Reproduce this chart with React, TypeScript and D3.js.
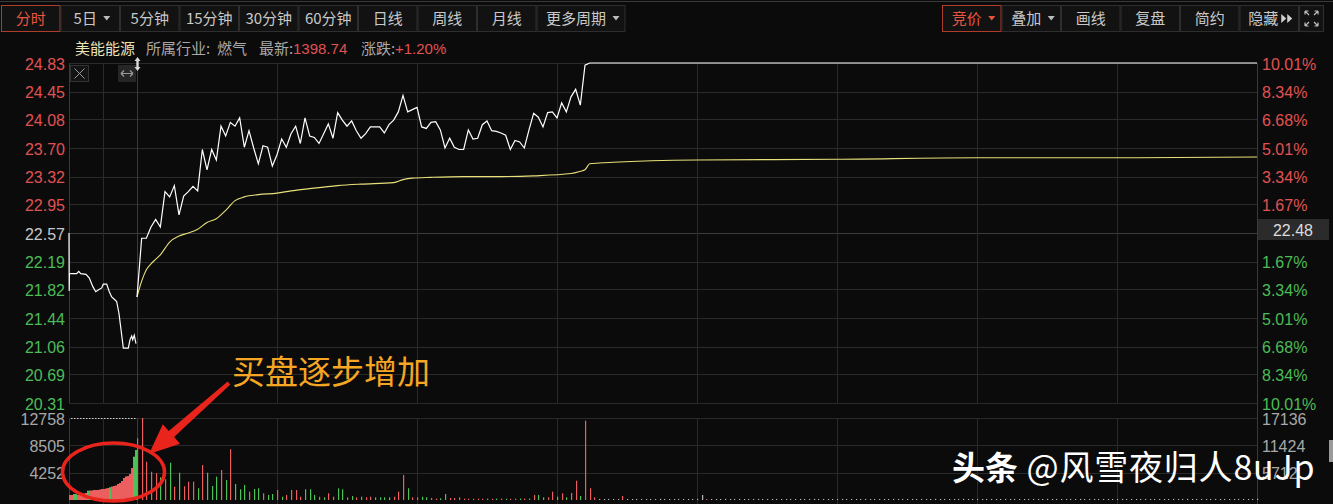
import React from 'react';
import * as d3 from 'd3';

// ---------------- DATA ----------------
const toolbarLeft = ['分时', '5日', '5分钟', '15分钟', '30分钟', '60分钟', '日线', '周线', '月线', '更多周期'];
const toolbarLeftDropdown = [false, true, false, false, false, false, false, false, false, true];
const toolbarRight = ['竞价', '叠加', '画线', '复盘', '简约', '隐藏'];
const toolbarRightDropdown = [true, true, false, false, false, false];

const stockName = '美能能源';
const industryLabel = '所属行业:';
const industryName = '燃气';
const latestLabel = '最新:';
const latestValue = '1398.74';
const changeLabel = '涨跌:';
const changeValue = '+1.20%';

const prevClose = 22.57;
const priceTicks = [24.83, 24.45, 24.08, 23.70, 23.32, 22.95, 22.57, 22.19, 21.82, 21.44, 21.06, 20.69, 20.31];
const pctTicks = ['10.01%', '8.34%', '6.68%', '5.01%', '3.34%', '1.67%', '', '1.67%', '3.34%', '5.01%', '6.68%', '8.34%', '10.01%'];
const crossPrice = '22.48';

// auction (9:15-9:25), minutes from 9:15
const preTimes = [0, 0.03, 0.06, 1.13, 1.43, 1.72, 2.5, 2.99, 3.49, 3.93, 4.41, 4.81, 5.04, 5.54, 5.93, 6.28, 6.66, 7.01, 7.35, 7.6, 7.99, 8.72, 8.97, 9.22, 9.37, 9.6, 9.85];
const prePrices = [22.57, 21.80, 22.03, 22.03, 22.06, 22.03, 22.02, 21.97, 21.86, 21.79, 21.82, 21.84, 21.89, 21.89, 21.79, 21.72, 21.69, 21.66, 21.50, 21.32, 21.04, 21.04, 21.15, 21.20, 21.15, 21.21, 21.10];
const preVolumes = [780, 780, 930, 930, 780, 860, 930, 1010, 1090, 1450, 1480, 1480, 1560, 1560, 1560, 1630, 1710, 1710, 1790, 1870, 1980, 2100, 2180, 2260, 2490, 2650, 2960, 3420, 3660, 3730, 4050, 4980, 6740, 7780];
const preVolDir = 'rrggrrrrrgrrrrrrrrrrgrrrrrrrrrrrgg';
const preVolMax = 12758;
const preVolTicks = [12758, 8505, 4252];

// main session, minute index 0..240
const mainPrices = [
  21.72, 22.50, 22.50, 22.65, 22.75, 22.65, 23.12, 23.05, 23.20, 22.81,
  23.06, 23.12, 23.19, 23.13, 23.68, 23.41, 23.68, 23.54, 23.99, 23.86,
  24.04, 23.99, 24.10, 23.71, 23.93, 23.70, 23.49, 23.73, 23.71, 23.46,
  23.61, 23.82, 23.71, 23.89, 23.99, 23.76, 24.10, 23.86, 23.84, 23.76,
  23.89, 24.02, 23.83, 24.17, 24.07, 23.99, 24.06, 23.93, 23.83, 23.89,
  23.98, 23.98, 23.98, 23.90, 24.01, 24.07, 24.18, 24.40, 24.18, 24.21,
  24.24, 23.98, 23.96, 24.04, 24.05, 23.94, 23.70, 23.83, 23.71, 23.68,
  23.68, 23.94, 23.82, 23.83, 24.01, 24.06, 23.93, 23.92, 23.90, 23.87,
  23.68, 23.80, 23.78, 23.70, 23.94, 24.16, 24.11, 23.98, 24.17, 24.18,
  24.10, 24.30, 24.18, 24.38, 24.48, 24.27, 24.80,
];
const limitUpPrice = 24.83;
const limitUpFrom = 97;
const sessionEnd = 240;

const avgMinutes = [0, 1, 2, 3, 4, 5, 7, 9, 11, 13, 15, 17, 19, 21, 23, 26, 30, 33, 37, 43, 48, 55, 57, 59, 63, 70, 78, 85, 93, 95, 96, 97, 99, 102, 120, 150, 180, 210, 240];
const avgPrices = [
  21.72, 21.93, 22.08, 22.16, 22.22, 22.28, 22.45, 22.53, 22.57, 22.62,
  22.71, 22.76, 22.87, 23.00, 23.05, 23.08, 23.10, 23.13, 23.16, 23.20,
  23.22, 23.24, 23.28, 23.30, 23.31, 23.32, 23.32, 23.33, 23.36, 23.39,
  23.41, 23.49, 23.50, 23.51, 23.54, 23.55, 23.57, 23.57, 23.58,
];

const mainVolumes = [
  12900, 17136, 8000, 5900, 5580, 4740, 4330, 7800, 2780, 5700,
  2860, 3820, 3820, 2450, 7310, 5700, 2930, 4870, 6270, 4180,
  10600, 3340, 2240, 3140, 1740, 2300, 2450, 1400, 1050, 1250,
  2090, 690, 1050, 2090, 2090, 690, 2240, 2240, 1050, 690,
  560, 1400, 690, 2450, 2240, 560, 850, 560, 690, 560,
  690, 560, 560, 560, 560, 690, 1740, 5220, 2450, 560,
  560, 690, 560, 420, 280, 350, 1250, 420, 420, 560,
  280, 280, 250, 280, 250, 280, 250, 280, 300, 280,
  250, 280, 300, 300, 300, 1050, 1050, 560, 560, 1740,
  690, 1400, 560, 1470, 4030, 850, 16570, 2450, 560,
  200, 180, 220, 160, 210, 850, 190, 170, 230, 200,
  180, 210, 160, 240, 190, 200, 170, 220, 180, 210,
  190, 230, 1045, 200, 170, 210, 180, 240, 160, 200,
  220, 180, 200, 170, 230, 190, 210, 160, 200, 180,
  210, 190, 170, 220, 200, 180, 240, 160, 210, 190,
  200, 170, 230, 180, 210, 190, 160, 220, 200, 180,
  190, 210, 170, 230, 200, 180, 160, 220, 190, 210,
  180, 200, 240, 170, 210, 190, 160, 200, 230, 180,
  210, 190, 170, 220, 200, 180, 160, 230, 190, 210,
  200, 170, 220, 180, 210, 190, 240, 160, 200, 180,
  190, 210, 170, 230, 200, 180, 220, 160, 210, 190,
  200, 170, 230, 180, 210, 190, 160, 220, 200, 180,
  190, 210, 170, 230, 200, 180, 240, 160, 210, 190,
  200, 180, 220, 170, 210, 190, 160, 230, 200, 180,
  210, 250,
];
const mainVolDir =
  'rrrrrgrgrg' + 'rrrgrgggrg' + 'rgggrggrgg' + 'rgrrrrgggr' + 'grrggrgrgr' +
  'rggggrrrgr' + 'rggrrggrrr' + 'rrgrrgrgrg' + 'rrgrgrggrr' + 'grgrrgrrr' +
  'fffffrfffffffffffffffffr';
const mainVolMax = 17136;
const mainVolTicks = [17136, 11424, 5712];

const annotationText = '买盘逐步增加';
const watermarkBold = '头条';
const watermarkRest = ' @风雪夜归人8uJp';

// ---------------- STYLE / LAYOUT ----------------
const W = 1333;
const H = 504;
const L = 69;        // plot left
const PRE_R = 137;   // end of auction pane
const R = 1257;      // plot right
const P_TOP = 63;
const P_BOT = 403;
const V_TOP = 418;
const V_BOT = 500;

const BG = '#0b0b0b';
const GRID = '#2a2a2a';
const RED = '#e05252';
const GREEN = '#4dbb57';
const BAR_RED = '#ec5f5f';
const BAR_GREEN = '#4cc159';
const GRAY_TXT = '#a8a8a8';
const CJK = '"Noto Sans CJK SC", "Noto Sans", sans-serif';
const NUM = '"Liberation Sans", Arial, sans-serif';

function DropArrow({ x, y, color }: { x: number; y: number; color: string }) {
  return <path d={`M${x - 3.5},${y - 2} L${x + 3.5},${y - 2} L${x},${y + 2.5} Z`} fill={color} />;
}

export default function App() {
  const x = d3.scaleLinear().domain([0, sessionEnd]).range([PRE_R, R]);
  const xPre = d3.scaleLinear().domain([0, 10]).range([L, PRE_R]);
  const y = d3.scaleLinear().domain([priceTicks[priceTicks.length - 1], priceTicks[0]]).range([P_BOT, P_TOP]);
  const yVol = d3.scaleLinear().domain([0, mainVolMax]).range([V_BOT, V_TOP]);
  const yPreVol = d3.scaleLinear().domain([0, preVolMax]).range([V_BOT, V_TOP]);
  const preBand = d3.scaleBand<number>().domain(d3.range(preVolumes.length)).range([L, PRE_R]).paddingInner(0);

  const mainSeries: [number, number][] = mainPrices.map((p, i) => [i, p] as [number, number]);
  mainSeries.push([limitUpFrom, limitUpPrice], [sessionEnd, limitUpPrice]);

  const line = d3.line<[number, number]>().x((d) => x(d[0])).y((d) => y(d[1]));
  const preLine = d3.line<[number, number]>().x((d) => xPre(d[0])).y((d) => y(d[1]));
  const avgLine = d3
    .line<[number, number]>()
    .x((d) => x(d[0]))
    .y((d) => y(d[1]))
    .curve(d3.curveMonotoneX);

  const preSeries: [number, number][] = preTimes.map((t, i) => [t, prePrices[i]] as [number, number]);
  const avgSeries: [number, number][] = avgMinutes.map((m, i) => [m, avgPrices[i]] as [number, number]);

  const vGrid = d3.range(0, sessionEnd + 1, 30).map((m) => x(m));

  // toolbar geometry
  const btnW = 59.5;
  const leftBtns = toolbarLeft.map((t, i) => {
    const x0 = 1 + i * btnW;
    const w = i === toolbarLeft.length - 1 ? 89 : btnW;
    return { t, x0, w, drop: toolbarLeftDropdown[i], sel: i === 0 };
  });
  const rightBtns = toolbarRight.map((t, i) => ({ t, x0: 942 + i * btnW, w: btnW, drop: toolbarRightDropdown[i], sel: i === 0 }));

  // arrow geometry
  const T = [229, 383];
  const P = [149, 454];
  const dx = P[0] - T[0];
  const dy = P[1] - T[1];
  const len = Math.hypot(dx, dy);
  const u = [dx / len, dy / len];
  const n = [-u[1], u[0]];
  const B = [P[0] - u[0] * 30, P[1] - u[1] * 30];
  const pt = (p: number[], k: number) => `${p[0] + n[0] * k},${p[1] + n[1] * k}`;
  const arrowPts = [pt(T, 2), pt(B, 4), pt(B, 13), `${P[0]},${P[1]}`, pt(B, -13), pt(B, -4), pt(T, -2)].join(' ');

  return (
    <svg
      width={W}
      height={H}
      style={{ position: 'fixed', left: 0, top: 0, display: 'block', background: BG }}
      xmlns="http://www.w3.org/2000/svg"
    >
      <rect x={0} y={0} width={W} height={H} fill={BG} />

      {/* toolbar */}
      <line x1={0} x2={W} y1={1.5} y2={1.5} stroke="#3a3a3a" />
      {[...leftBtns, ...rightBtns].map((b, i) => {
        const c = b.x0 + b.w / 2;
        const color = b.sel ? '#e8553e' : '#c9c9c9';
        const tx = b.drop ? c - 5 : b.t === '隐藏' ? c - 6 : c;
        const textW = b.t.length * 15 - (/\d/.test(b.t) ? 7 * (b.t.match(/\d/g) || []).length : 0);
        return (
          <g key={'b' + i}>
            <rect x={b.x0 + 0.5} y={5.5} width={b.w - 1} height={26} fill="#121212" stroke={b.sel ? '#b03c2a' : '#2e2e2e'} />
            <text x={tx} y={23.5} textAnchor="middle" fontFamily={CJK} fontSize={15} fill={color}>
              {b.t}
            </text>
            {b.drop && <DropArrow x={tx + textW / 2 + 10} y={18} color={b.sel ? '#e8553e' : '#bdbdbd'} />}
            {b.t === '隐藏' && (
              <g fill="#cfcfcf">
                <path d={`M${tx + 18},${14} L${tx + 23},${18.5} L${tx + 18},${23} Z`} />
                <path d={`M${tx + 24},${14} L${tx + 29},${18.5} L${tx + 24},${23} Z`} />
              </g>
            )}
          </g>
        );
      })}
      {/* expand icon */}
      <g stroke="#bdbdbd" strokeWidth={1.2} fill="none">
        <rect x={1299.5} y={5.5} width={24} height={26} fill="#121212" stroke="#2e2e2e" />
        <path d="M1305,11 L1309,15 M1305,11 L1308.5,11 M1305,11 L1305,14.5" />
        <path d="M1318,11 L1314,15 M1318,11 L1314.5,11 M1318,11 L1318,14.5" />
        <path d="M1305,26 L1309,22 M1305,26 L1308.5,26 M1305,26 L1305,22.5" />
        <path d="M1318,26 L1314,22 M1318,26 L1314.5,26 M1318,26 L1318,22.5" />
      </g>

      {/* header */}
      <text y={54} fontFamily={CJK} fontSize={15}>
        <tspan x={75} fill="#ece3b8">{stockName}</tspan>
        <tspan x={146} fill="#a9a9a9">{industryLabel}</tspan>
        <tspan x={217} fill="#a9a9a9">{industryName}</tspan>
        <tspan x={259} fill="#a9a9a9">{latestLabel}</tspan>
        <tspan x={293} fill={RED} fontFamily={NUM}>{latestValue}</tspan>
        <tspan x={361} fill="#a9a9a9">{changeLabel}</tspan>
        <tspan x={395} fill={RED} fontFamily={NUM}>{changeValue}</tspan>
      </text>

      {/* price grid */}
      {priceTicks.map((v, i) => (
        <line
          key={'hg' + i}
          x1={L}
          x2={R}
          y1={Math.round(y(v)) + 0.5}
          y2={Math.round(y(v)) + 0.5}
          stroke={v === prevClose ? '#3c3c3c' : GRID}
        />
      ))}
      {/* volume grid */}
      {mainVolTicks.map((v, i) => (
        <line key={'vg' + i} x1={L} x2={R} y1={Math.round(yVol(v)) + 0.5} y2={Math.round(yVol(v)) + 0.5} stroke={GRID} />
      ))}
      {/* vertical grid */}
      {vGrid.map((gx, i) => (
        <g key={'vx' + i}>
          <line x1={Math.round(gx) + 0.5} x2={Math.round(gx) + 0.5} y1={P_TOP} y2={P_BOT} stroke={i === 0 ? '#3a3a3a' : GRID} />
          <line x1={Math.round(gx) + 0.5} x2={Math.round(gx) + 0.5} y1={V_TOP} y2={H} stroke={i === 0 ? '#3a3a3a' : GRID} />
        </g>
      ))}
      <line x1={Math.round(xPre(5)) + 0.5} x2={Math.round(xPre(5)) + 0.5} y1={P_TOP} y2={P_BOT} stroke={GRID} />
      <line x1={Math.round(xPre(5)) + 0.5} x2={Math.round(xPre(5)) + 0.5} y1={V_TOP} y2={H} stroke={GRID} />
      <line x1={L + 0.5} x2={L + 0.5} y1={P_TOP} y2={P_BOT} stroke="#3a3a3a" />
      <line x1={L + 0.5} x2={L + 0.5} y1={V_TOP} y2={H} stroke="#3a3a3a" />
      <line x1={R + 0.5} x2={R + 0.5} y1={P_TOP} y2={H} stroke="#3a3a3a" />

      {/* auction volume */}
      {preVolumes.map((v, i) => {
        const top = yPreVol(v);
        return (
          <rect
            key={'pv' + i}
            x={preBand(i)!}
            y={top}
            width={preBand.bandwidth()}
            height={V_BOT - top}
            fill={preVolDir[i] === 'g' ? BAR_GREEN : BAR_RED}
          />
        );
      })}
      <line x1={L + 2} x2={PRE_R} y1={V_TOP + 0.5} y2={V_TOP + 0.5} stroke="#cfcfcf" strokeDasharray="1.5,1.5" />

      {/* main volume */}
      {mainVolumes.map((v, i) => {
        const top = Math.min(yVol(v), V_BOT - 1);
        const d = mainVolDir[i] ?? 'f';
        const color = d === 'r' ? BAR_RED : d === 'g' ? BAR_GREEN : '#b9b9b9';
        return <rect key={'mv' + i} x={Math.round(x(i))} y={top} width={1.2} height={V_BOT - top} fill={color} />;
      })}

      {/* price lines */}
      <path d={preLine(preSeries) || ''} fill="none" stroke="#ffffff" strokeWidth={1.2} />
      <path d={avgLine(avgSeries) || ''} fill="none" stroke="#e8e07a" strokeWidth={1.1} />
      <path d={line(mainSeries) || ''} fill="none" stroke="#ffffff" strokeWidth={1.2} />

      {/* left axis */}
      {priceTicks.map((v, i) => (
        <text
          key={'lt' + i}
          x={65}
          y={y(v) + 1}
          textAnchor="end"
          dominantBaseline="central"
          fontFamily={NUM}
          fontSize={16}
          fill={v > prevClose ? RED : v < prevClose ? GREEN : '#c8c8c8'}
        >
          {v.toFixed(2)}
        </text>
      ))}
      {preVolTicks.map((v, i) => (
        <text key={'lv' + i} x={65} y={yPreVol(v) + 1} textAnchor="end" dominantBaseline="central" fontFamily={NUM} fontSize={16} fill={GRAY_TXT}>
          {v}
        </text>
      ))}

      {/* right axis */}
      {pctTicks.map((t, i) =>
        t ? (
          <text
            key={'rt' + i}
            x={1262}
            y={y(priceTicks[i]) + 1}
            dominantBaseline="central"
            fontFamily={NUM}
            fontSize={16}
            fill={priceTicks[i] > prevClose ? RED : GREEN}
          >
            {t}
          </text>
        ) : null
      )}
      <rect x={R + 1} y={y(prevClose) - 14} width={71} height={21} fill="#2b2b2b" />
      <text x={R + 36} y={y(prevClose) - 3} textAnchor="middle" dominantBaseline="central" fontFamily={NUM} fontSize={16} fill="#dcdcdc">
        {crossPrice}
      </text>
      {mainVolTicks.map((v, i) => (
        <text key={'rv' + i} x={1262} y={yVol(v) + 1} dominantBaseline="central" fontFamily={NUM} fontSize={16} fill={GRAY_TXT}>
          {v}
        </text>
      ))}
      <rect x={1329} y={440} width={4} height={22} fill="#9a9a9a" />

      {/* pane icons */}
      <rect x={70.5} y={65.5} width={18} height={16} fill="#141414" stroke="#333" />
      <path d="M74.5,68.5 L84.5,78.5 M84.5,68.5 L74.5,78.5" stroke="#9a9a9a" strokeWidth={1} />
      <rect x={118.5} y={65.5} width={17} height={16} fill="#262626" stroke="#262626" />
      <path d="M121,73.5 L133,73.5 M121,73.5 L124,70.5 M121,73.5 L124,76.5 M133,73.5 L130,70.5 M133,73.5 L130,76.5" stroke="#9a9a9a" strokeWidth={1.2} fill="none" />
      <path d="M137.5,57 L140.5,61 L134.5,61 Z M137.5,71 L140.5,67 L134.5,67 Z" fill="#d8d8d8" />
      <rect x={136.3} y={60} width={2.4} height={8} fill="#d8d8d8" />

      {/* annotation */}
      <text x={232} y={384} fontFamily={CJK} fontSize={33} fill="#f6a623">
        {annotationText}
      </text>
      <polygon points={arrowPts} fill="#e8241c" />
      <ellipse cx={113.5} cy={472} rx={51} ry={29} fill="none" stroke="#e8241c" strokeWidth={3.5} />

      {/* watermark */}
      <text x={952} y={480} fontFamily={CJK} fontSize={33} fill="#ffffff" style={{ whiteSpace: 'pre' }}>
        <tspan fontWeight="bold">{watermarkBold}</tspan>
        <tspan fontSize={34} letterSpacing={0.8}>{watermarkRest}</tspan>
      </text>
    </svg>
  );
}
